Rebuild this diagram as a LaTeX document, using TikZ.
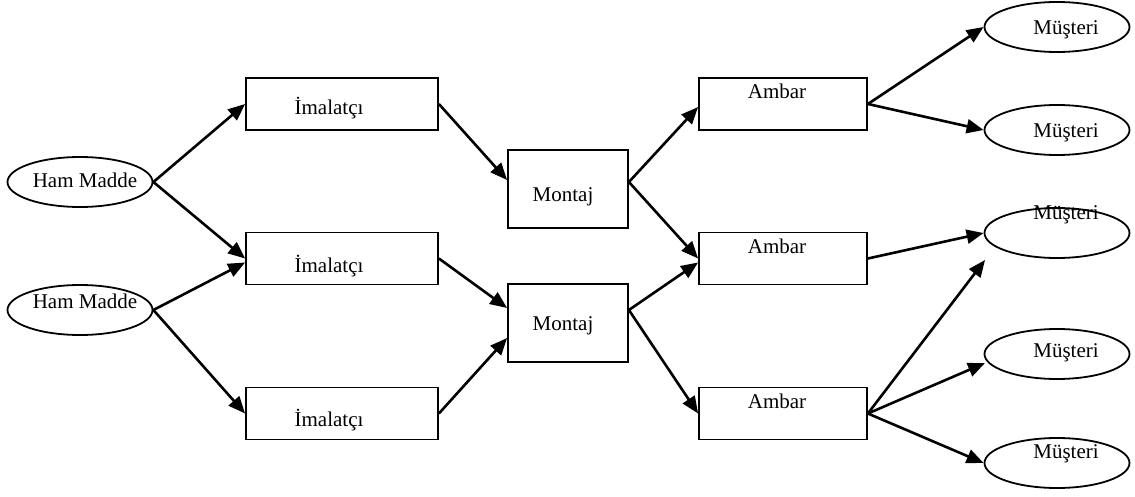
\documentclass[tikz,border=0pt]{standalone}
\usepackage{fontspec}
\setmainfont{Liberation Serif}
\usetikzlibrary{shapes.geometric,arrows.meta}
\begin{document}
\begin{tikzpicture}[x=1pt,y=-1pt,
  every node/.style={font=\fontsize{21}{24}\selectfont},
  boxnode/.style={draw,line width=1.8pt,rectangle,inner sep=0pt,minimum width=192pt,minimum height=52pt},
  amb/.style={boxnode,minimum width=168pt},
  mon/.style={boxnode,minimum width=120pt,minimum height=78pt},
  oval/.style={draw,line width=1.8pt,ellipse,inner sep=0pt,minimum width=145pt,minimum height=50pt},
  txt/.style={inner sep=0pt,anchor=base},
  flow/.style={line width=2.6pt,-{Triangle[length=17pt,width=14pt]}}]
\useasboundingbox (0,0) rectangle (1135,497);

% raw material sources
\node[oval] (hm1) at (80,182) {};
\node[oval] (hm2) at (80,310) {};
% manufacturers
\node[boxnode] (im1) at (342,104) {};
\node[boxnode] (im2) at (342,258.5) {};
\node[boxnode] (im3) at (342,413.5) {};
% assembly
\node[mon] (mon1) at (568,189) {};
\node[mon] (mon2) at (568,323) {};
% warehouses
\node[amb] (amb1) at (783,104) {};
\node[amb] (amb2) at (783,258.5) {};
\node[amb] (amb3) at (783,413.5) {};
% customers
\node[oval] (m1) at (1057,27) {};
\node[oval] (m2) at (1057,130) {};
\node[oval] (m3) at (1057,233) {};
\node[oval] (m4) at (1057,354) {};
\node[oval] (m5) at (1057,463) {};

% labels
\node[txt] (hm1t) at (85,188) {Ham Madde};
\node[txt] (hm2t) at (85,308) {Ham Madde};
\node[txt] (im1t) at (329,115) {İmalatçı};
\node[txt] (im2t) at (329,272) {İmalatçı};
\node[txt] (im3t) at (329,426) {İmalatçı};
\node[txt] (mon1t) at (563,202) {Montaj};
\node[txt] (mon2t) at (563,330) {Montaj};
\node[txt] (amb1t) at (777,99) {Ambar};
\node[txt] (amb2t) at (777,253) {Ambar};
\node[txt] (amb3t) at (777,408) {Ambar};
\node[txt] (m1t) at (1066,35) {Müşteri};
\node[txt] (m2t) at (1066,138) {Müşteri};
\node[txt] (m3t) at (1066,220) {Müşteri};
\node[txt] (m4t) at (1066,357) {Müşteri};
\node[txt] (m5t) at (1066,458) {Müşteri};

\coordinate (m3low) at (985,260);
\coordinate (m4low) at (985,363);

% flows
\draw[flow] (hm1.east) -- (im1.west);
\draw[flow] (hm1.east) -- (im2.west);
\draw[flow] (hm2.east) -- ([yshift=-4pt]im2.west);
\draw[flow] (hm2.east) -- (im3.west);
\draw[flow] (im1.east) -- ([yshift=9pt]mon1.west);
\draw[flow] (im2.east) -- ([yshift=15pt]mon2.west);
\draw[flow] (im3.east) -- ([yshift=-15pt]mon2.west);
\draw[flow] ([yshift=7pt]mon1.east) -- ([yshift=-3pt]amb1.west);
\draw[flow] ([yshift=7pt]mon1.east) -- (amb2.west);
\draw[flow] ([yshift=13pt]mon2.east) -- ([yshift=-4pt]amb2.west);
\draw[flow] ([yshift=13pt]mon2.east) -- (amb3.west);
\draw[flow] (amb1.east) -- (m1.west);
\draw[flow] (amb1.east) -- (m2.west);
\draw[flow] (amb2.east) -- (m3.west);
\draw[flow] (amb3.east) -- (m3low);
\draw[flow] (amb3.east) -- (m4low);
\draw[flow] (amb3.east) -- (m5.west);
\end{tikzpicture}
\end{document}
